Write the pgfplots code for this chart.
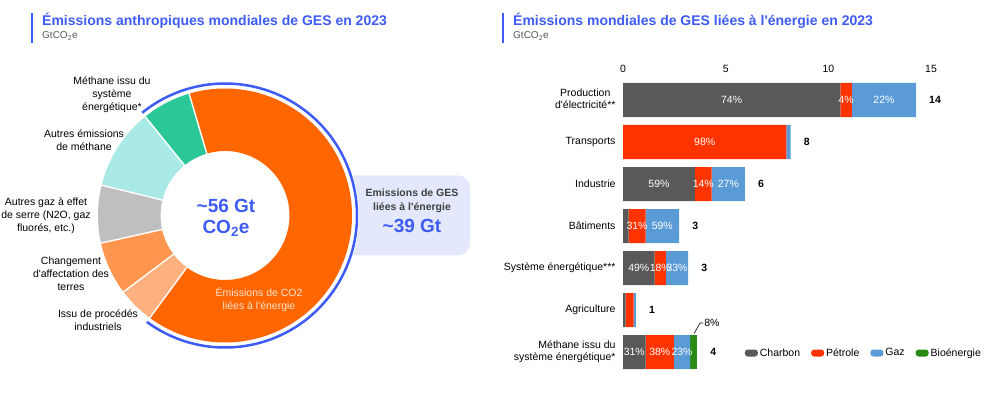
\documentclass[border=0pt]{standalone}
\usepackage{fontspec}
\setmainfont{Liberation Sans}[Ligatures=TeXOff]
\usepackage{pgfplots}
\pgfplotsset{compat=1.18}
\definecolor{tblue}{HTML}{3D5BF5}
\definecolor{subgray}{HTML}{595959}
\definecolor{charbon}{HTML}{595959}
\definecolor{petrole}{HTML}{FF3300}
\definecolor{gaz}{HTML}{5B9BD5}
\definecolor{bio}{HTML}{2B8A14}
\definecolor{dorange}{HTML}{FF6600}
\definecolor{dgreen}{HTML}{2BC796}
\definecolor{dcyan}{HTML}{A9E9E6}
\definecolor{dgray}{HTML}{BFBFBF}
\definecolor{dmid}{HTML}{FF964F}
\definecolor{dlight}{HTML}{FFB07F}
\definecolor{boxfill}{HTML}{E3E8FC}
\definecolor{boxtext}{HTML}{404040}
\definecolor{co2lab}{HTML}{FFE3CC}
\newcommand{\lab}{\fontsize{10.5}{13}\selectfont}
\newcommand{\ring}[3]{\fill[#3] (axis cs:{127*cos(#1)},{127*sin(#1)}) arc[start angle=#1,end angle=#2,radius=127pt] -- (axis cs:{64.5*cos(#2)},{64.5*sin(#2)}) arc[start angle=#2,end angle=#1,radius=64.5pt] -- cycle;}
\newcommand{\sep}[1]{\draw[white, line width=1.4pt] (axis cs:{63*cos(#1)},{63*sin(#1)}) -- (axis cs:{128*cos(#1)},{128*sin(#1)});}
\pgfplotsset{leg/.style={legend image code/.code={\fill[##1,draw=none,rounded corners=3pt] (0pt,-3.5pt) rectangle (13pt,3.5pt);}},
  barframe/.style={at={(623pt,20pt)}, anchor=south west, scale only axis, width=308pt, height=294pt,
    xmin=0, xmax=15, ymin=-0.5, ymax=6.5, y dir=reverse, enlargelimits=false, clip=false}}
\begin{document}
\begin{tikzpicture}[x=1pt,y=1pt]
\useasboundingbox (0,0) rectangle (1008,393);
% titles
\draw[tblue, line width=1.5pt] (32,380) -- (32,350);
\node[anchor=base west, inner sep=0, font=\bfseries\fontsize{14}{16}\selectfont, text=tblue] at (42,367) {Émissions anthropiques mondiales de GES en 2023};
\node[anchor=base west, inner sep=0, font=\fontsize{10}{11}\selectfont, text=subgray] at (42,354) {GtCO\textsubscript{2}e};
\draw[tblue, line width=1.5pt] (503,380) -- (503,350);
\node[anchor=base west, inner sep=0, font=\bfseries\fontsize{14}{16}\selectfont, text=tblue] at (513,367) {Émissions mondiales de GES liées à l'énergie en 2023};
\node[anchor=base west, inner sep=0, font=\fontsize{10}{11}\selectfont, text=subgray] at (513,354) {GtCO\textsubscript{2}e};
% donut data (GtCO2e): energy-methane 3.5, other methane 5.8, other gases 4.1, land use 3.8, industrial processes 2.6, energy CO2 36.2
\pgfmathsetmacro\aA{106.4}
\pgfmathsetmacro\aB{\aA+3.5*360/56}
\pgfmathsetmacro\aC{\aB+5.8*360/56}
\pgfmathsetmacro\aD{\aC+4.1*360/56}
\pgfmathsetmacro\aE{\aD+3.8*360/56}
\pgfmathsetmacro\aF{\aE+2.6*360/56}
\pgfmathsetmacro\aG{\aF+36.2*360/56}
\pgfmathsetmacro\aH{\aB+360}
\begin{axis}[at={(225pt,177.5pt)}, anchor=center, x=1pt, y=1pt,
  xmin=-150, xmax=150, ymin=-150, ymax=150, hide axis, clip=false]
\fill[boxfill, rounded corners=12pt] (axis cs:110,-40) rectangle (axis cs:245,40);
\fill[white] (axis cs:0,0) circle[radius=134pt];
\ring{\aA}{\aB}{dgreen}
\ring{\aB}{\aC}{dcyan}
\ring{\aC}{\aD}{dgray}
\ring{\aD}{\aE}{dmid}
\ring{\aE}{\aF}{dlight}
\ring{\aF}{\aG}{dorange}
\sep{\aA}\sep{\aB}\sep{\aC}\sep{\aD}\sep{\aE}\sep{\aF}
\draw[tblue, line width=2.5pt] (axis cs:{132*cos(\aF)},{132*sin(\aF)}) arc[start angle=\aF, end angle=\aH, radius=132pt];
\node[font=\bfseries\fontsize{19}{22}\selectfont, text=tblue] at (axis cs:1,10) {\~{}56 Gt};
\node[font=\bfseries\fontsize{19}{22}\selectfont, text=tblue] at (axis cs:1,-13) {CO\textsubscript{2}e};
\node[font=\bfseries\fontsize{10.5}{14}\selectfont, text=boxtext, align=center] at (axis cs:187,15) {Emissions de GES\\liées à l'énergie};
\node[font=\bfseries\fontsize{19}{22}\selectfont, text=tblue] at (axis cs:187,-10) {\~{}39 Gt};
\node[font=\lab, text=co2lab, align=center] at (axis cs:34,-84) {Émissions de CO2\\liées à l'énergie};
\node[font=\lab, align=center] at (axis cs:-113,121) {Méthane issu du\\système\\énergétique*};
\node[font=\lab, align=center] at (axis cs:-141,75.5) {Autres émissions\\de méthane};
\node[font=\lab, align=center] at (axis cs:-179,0) {Autres gaz à effet\\de serre (N2O, gaz\\fluorés, etc.)};
\node[font=\lab, align=center] at (axis cs:-154,-58.5) {Changement\\d'affectation des\\terres};
\node[font=\lab, align=center] at (axis cs:-127,-105) {Issu de procédés\\industriels};
\end{axis}
% bar chart
\begin{axis}[barframe,
  xbar stacked, bar width=34pt,
  xtick={0,5,10,15}, xticklabel pos=upper,
  ytick={0,1,2,3,4,5,6},
  yticklabels={{\def\arraystretch{0.9}\begin{tabular}{@{}c@{}}Production\\d'électricité**\end{tabular}},Transports,Industrie,Bâtiments,Système énergétique***,Agriculture,{\def\arraystretch{0.9}\begin{tabular}{@{}r@{}}Méthane issu du\\système énergétique*\end{tabular}}},
  axis line style={draw=none}, major tick length=0pt,
  tick label style={font=\lab},
  xticklabel style={yshift=3pt},
  yticklabel style={xshift=-4pt},
  /pgf/number format/assume math mode=true,
  legend columns=4,
  legend style={at={(axis description cs:0.395,0.068)}, anchor=west, draw=none, fill=none, inner sep=0pt, font=\lab,
    /tikz/every even column/.append style={column sep=9pt}},
]
\addplot[fill=charbon, draw=none, leg] coordinates {(10.58,0) (0,1) (3.5,2) (0.27,3) (1.54,4) (0.13,5) (1.1,6)};
\addplot[fill=petrole, draw=none, leg] coordinates {(0.57,0) (7.96,1) (0.82,2) (0.83,3) (0.55,4) (0.39,5) (1.38,6)};
\addplot[fill=gaz, draw=none, leg] coordinates {(3.12,0) (0.2,1) (1.62,2) (1.63,3) (1.08,4) (0.11,5) (0.79,6)};
\addplot[fill=bio, draw=none, leg] coordinates {(0,0) (0,1) (0,2) (0,3) (0,4) (0,5) (0.34,6)};
\legend{Charbon,Pétrole,Gaz,Bioénergie}
\end{axis}
% overlay for labels
\begin{axis}[barframe, hide axis]
\tikzset{pct/.style={font=\lab, text=white, inner sep=0}}
\node[pct] at (axis cs:5.29,0) {74\%};
\node[pct] at (axis cs:10.865,0) {4\%};
\node[pct] at (axis cs:12.71,0) {22\%};
\node[pct] at (axis cs:3.98,1) {98\%};
\node[pct] at (axis cs:1.75,2) {59\%};
\node[pct] at (axis cs:3.91,2) {14\%};
\node[pct] at (axis cs:5.13,2) {27\%};
\node[pct] at (axis cs:0.685,3) {31\%};
\node[pct] at (axis cs:1.915,3) {59\%};
\node[pct] at (axis cs:0.77,4) {49\%};
\node[pct] at (axis cs:1.815,4) {18\%};
\node[pct] at (axis cs:2.63,4) {33\%};
\node[pct] at (axis cs:0.55,6) {31\%};
\node[pct] at (axis cs:1.79,6) {38\%};
\node[pct] at (axis cs:2.875,6) {23\%};
\tikzset{tot/.style={font=\bfseries\lab, anchor=west, inner sep=0, xshift=13pt}}
\node[tot] at (axis cs:14.27,0) {14};
\node[tot] at (axis cs:8.16,1) {8};
\node[tot] at (axis cs:5.94,2) {6};
\node[tot] at (axis cs:2.73,3) {3};
\node[tot] at (axis cs:3.17,4) {3};
\node[tot] at (axis cs:0.63,5) {1};
\node[tot] at (axis cs:3.61,6) {4};
\draw[black, line width=0.6pt] (axis cs:3.46,5.56) -- (axis cs:3.75,5.31) -- (axis cs:3.9,5.31);
\node[font=\lab, anchor=west, inner sep=0] at (axis cs:3.95,5.31) {8\%};
\end{axis}
\end{tikzpicture}
\end{document}
